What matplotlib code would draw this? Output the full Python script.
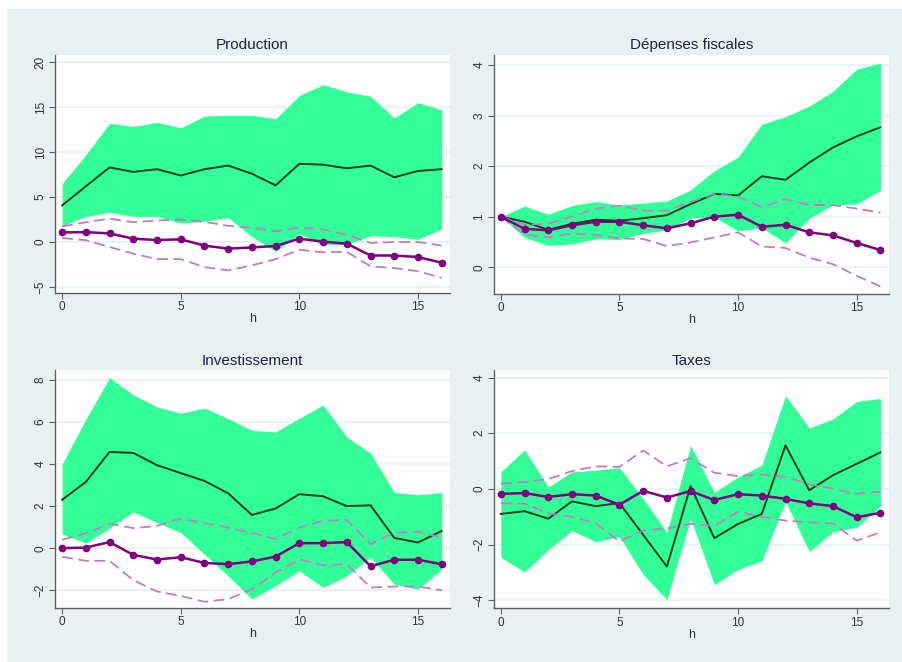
import matplotlib
matplotlib.use("Agg")
import matplotlib.pyplot as plt
from matplotlib.patches import Rectangle
import numpy as np

h = list(range(17))

# Production
prod_est = [4.07, 6.2, 8.3, 7.8, 8.1, 7.4, 8.1, 8.5, 7.6, 6.3, 8.7, 8.6, 8.2, 8.5, 7.2, 7.9, 8.1]
prod_hi = [6.5, 9.7, 13.2, 12.85, 13.3, 12.7, 14.0, 14.1, 14.1, 13.7, 16.3, 17.5, 16.7, 16.2, 13.8, 15.5, 14.7]
prod_lo = [1.8, 2.85, 3.3, 2.85, 2.85, 2.1, 2.3, 2.7, 0.6, -1.05, 0.9, -0.3, -0.3, 0.7, 0.6, 0.3, 1.45]
prod_alt = [1.07, 1.1, 0.96, 0.37, 0.22, 0.3, -0.4, -0.74, -0.6, -0.44, 0.37, 0.04, -0.18, -1.5, -1.5, -1.67, -2.3]
prod_alt_hi = [1.74, 2.2, 2.6, 2.2, 2.4, 2.5, 2.25, 1.8, 1.6, 1.2, 1.6, 1.4, 0.8, -0.1, 0.0, 0.0, -0.4]
prod_alt_lo = [0.44, 0.2, -0.55, -1.3, -1.9, -1.9, -2.8, -3.15, -2.6, -1.9, -0.85, -1.15, -1.1, -2.7, -2.9, -3.25, -4.0]

# Dépenses fiscales
dep_est = [1.0, 0.9, 0.74, 0.86, 0.94, 0.92, 0.97, 1.03, 1.25, 1.45, 1.42, 1.8, 1.73, 2.07, 2.37, 2.59, 2.77]
dep_hi = [1.0, 1.21, 1.05, 1.22, 1.3, 1.23, 1.27, 1.31, 1.53, 1.91, 2.18, 2.83, 2.98, 3.19, 3.48, 3.92, 4.04]
dep_lo = [1.0, 0.59, 0.43, 0.46, 0.56, 0.55, 0.67, 0.74, 0.97, 0.99, 0.72, 0.78, 0.48, 0.97, 1.23, 1.25, 1.52]
dep_alt = [1.0, 0.76, 0.73, 0.83, 0.9, 0.9, 0.83, 0.77, 0.87, 1.0, 1.04, 0.8, 0.84, 0.69, 0.63, 0.48, 0.34]
dep_alt_hi = [1.0, 0.84, 0.86, 1.0, 1.16, 1.22, 1.12, 1.12, 1.29, 1.45, 1.4, 1.19, 1.35, 1.23, 1.23, 1.16, 1.08]
dep_alt_lo = [1.0, 0.65, 0.59, 0.67, 0.64, 0.57, 0.56, 0.42, 0.49, 0.59, 0.69, 0.41, 0.38, 0.19, 0.06, -0.17, -0.38]

# Investissement
inv_est = [2.3, 3.15, 4.58, 4.53, 3.95, 3.57, 3.2, 2.61, 1.58, 1.89, 2.57, 2.47, 2.0, 2.04, 0.49, 0.27, 0.82]
inv_hi = [4.0, 6.13, 8.11, 7.29, 6.72, 6.42, 6.66, 6.16, 5.6, 5.53, 6.18, 6.81, 5.29, 4.52, 2.65, 2.54, 2.65]
inv_lo = [0.67, 0.24, 0.95, 1.73, 1.22, 0.74, -0.29, -1.32, -2.42, -1.79, -1.08, -1.87, -1.32, -0.44, -1.71, -1.95, -1.0]
inv_alt = [0.0, 0.03, 0.29, -0.32, -0.54, -0.43, -0.7, -0.76, -0.63, -0.4, 0.24, 0.24, 0.29, -0.86, -0.55, -0.55, -0.76]
inv_alt_hi = [0.4, 0.71, 1.17, 0.95, 1.06, 1.41, 1.19, 0.98, 0.73, 0.43, 0.98, 1.3, 1.35, 0.19, 0.74, 0.78, 0.51]
inv_alt_lo = [-0.41, -0.6, -0.6, -1.52, -2.06, -2.27, -2.55, -2.42, -1.95, -1.16, -0.52, -0.81, -0.76, -1.87, -1.82, -1.82, -2.0]

# Taxes
tax_est = [-0.9, -0.8, -1.07, -0.45, -0.62, -0.51, -1.65, -2.79, 0.1, -1.77, -1.26, -0.9, 1.56, -0.05, 0.49, 0.9, 1.31]
tax_hi = [0.61, 1.4, 0.07, 0.61, 0.67, 0.76, -0.35, -1.56, 1.56, -0.13, 0.43, 0.85, 3.35, 2.19, 2.51, 3.14, 3.25]
tax_lo = [-2.46, -2.99, -2.19, -1.5, -1.9, -1.71, -3.08, -3.98, -1.06, -3.44, -2.9, -2.58, -0.46, -2.25, -1.54, -1.38, -0.64]
tax_alt = [-0.18, -0.15, -0.29, -0.19, -0.24, -0.57, -0.07, -0.31, -0.08, -0.4, -0.19, -0.24, -0.36, -0.52, -0.62, -1.02, -0.86]
tax_alt_hi = [0.19, 0.25, 0.35, 0.64, 0.81, 0.79, 1.38, 0.81, 1.1, 0.58, 0.46, 0.52, 0.43, 0.17, 0.01, -0.17, -0.1]
tax_alt_lo = [-0.52, -0.52, -0.88, -1.0, -1.24, -1.89, -1.5, -1.42, -1.26, -1.33, -0.82, -1.0, -1.14, -1.2, -1.24, -1.86, -1.56]

titles = ["Production", "Dépenses fiscales", "Investissement", "Taxes"]
xticks = [0, 5, 10, 15]
yticks_list = [[-5, 0, 5, 10, 15, 20], [0, 1, 2, 3, 4], [-2, 0, 2, 4, 6, 8], [-4, -2, 0, 2, 4]]
ylims = [(-5.67, 20.8), (-0.53, 4.2), (-2.83, 8.46), (-4.29, 4.26)]

panels = [
    (prod_est, prod_hi, prod_lo, prod_alt, prod_alt_hi, prod_alt_lo),
    (dep_est, dep_hi, dep_lo, dep_alt, dep_alt_hi, dep_alt_lo),
    (inv_est, inv_hi, inv_lo, inv_alt, inv_alt_hi, inv_alt_lo),
    (tax_est, tax_hi, tax_lo, tax_alt, tax_alt_hi, tax_alt_lo),
]

W, H = 903, 662
fig = plt.figure(figsize=(W / 100, H / 100), dpi=100)
fig.patch.set_facecolor("white")
fig.patches.append(Rectangle((7 / W, 0), 1, (H - 9) / H, transform=fig.transFigure,
                             facecolor="#e8f0f2", edgecolor="none", zorder=-10))

boxes = [
    (55, 450, 55, 293),
    (493.7, 888.7, 55, 294),
    (55, 450, 370.3, 607.7),
    (493.7, 888.7, 370.3, 608.3),
]

font = "Liberation Sans"
GREEN = "#33ff99"
DARK = "#123d1a"
PURPLE = "#800080"
LPURPLE = "#c07cc0"
AXC = "#606060"

for k, (box, data) in enumerate(zip(boxes, panels)):
    x0, x1, y0, y1 = box
    ax = fig.add_axes([x0 / W, 1 - y1 / H, (x1 - x0) / W, (y1 - y0) / H])
    est, hi, lo, alt, alt_hi, alt_lo = data
    ax.fill_between(h, lo, hi, color=GREEN, linewidth=0, zorder=2)
    ax.plot(h, est, color=DARK, lw=1.4, zorder=3)
    ax.plot(h, alt_hi, color=LPURPLE, lw=1.3, dashes=(6, 3), zorder=4)
    ax.plot(h, alt_lo, color=LPURPLE, lw=1.3, dashes=(6, 3), zorder=4)
    ax.plot(h, alt, color=PURPLE, lw=1.8, marker="o", markersize=4.5, zorder=5)
    ax.set_xlim(-0.3, 16.35)
    ax.set_ylim(*ylims[k])
    ax.set_xticks(xticks)
    ax.set_yticks(yticks_list[k])
    for yt in yticks_list[k]:
        ax.axhline(yt, color="#eaf2f3", lw=1.5, zorder=1)
    ax.set_facecolor("white")
    for s in ["top", "right"]:
        ax.spines[s].set_visible(False)
    for s in ["left", "bottom"]:
        ax.spines[s].set_color(AXC)
        ax.spines[s].set_linewidth(1.0)
    ax.tick_params(axis="both", direction="out", length=4, width=0.8, color=AXC,
                   labelsize=8.5, labelcolor="#333333", pad=2)
    for lab in ax.get_yticklabels():
        lab.set_rotation(90)
        lab.set_va("center")
        lab.set_family(font)
    for lab in ax.get_xticklabels():
        lab.set_family(font)
    ax.set_title(titles[k], fontsize=11, family=font, color="#1e2540", pad=4)
    ax.set_xlabel("h", fontsize=9, family=font, color="#333333", labelpad=0)

fig.savefig("out.png", dpi=100, facecolor=fig.get_facecolor())
